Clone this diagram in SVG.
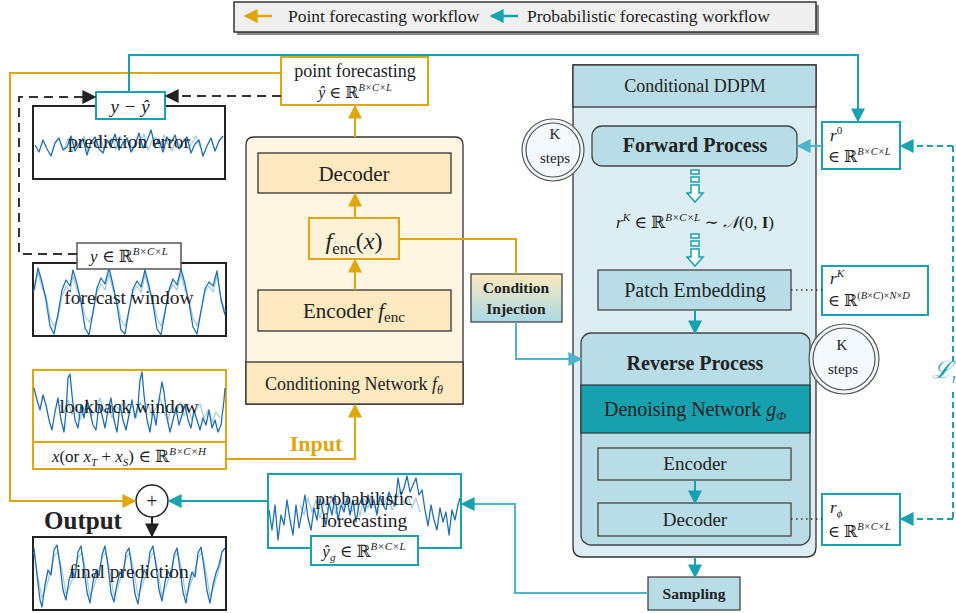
<svg xmlns="http://www.w3.org/2000/svg" width="956" height="613" viewBox="0 0 956 613">
<defs>
<style>
text{font-family:"Liberation Serif","DejaVu Serif",serif;fill:#222}
.it{font-style:italic}
.b{font-weight:bold}
.c{text-anchor:middle}
.ser{fill:none;stroke:#1e6fb6;stroke-width:1.3;stroke-linejoin:round}
.serl{fill:none;stroke:#9ccbe8;stroke-width:1.2;stroke-linejoin:round}
.y{fill:none;stroke:#e0a60c;stroke-width:2}
.t{fill:none;stroke:#18a2b0;stroke-width:2}
.tl{fill:none;stroke:#4cb4cb;stroke-width:2}
.dk{fill:none;stroke:#333;stroke-width:2;stroke-dasharray:9,6}
.td{fill:none;stroke:#18a2b0;stroke-width:2;stroke-dasharray:6,4}
.dot{fill:none;stroke:#333;stroke-width:1.5;stroke-dasharray:1.5,3.5}
.wbox{fill:#fff;stroke:#222;stroke-width:2}
.tbox{fill:#fff;stroke:#18a2b0;stroke-width:2}
.ybox{fill:#fff;stroke:#e0a60c;stroke-width:2}
.gbox{fill:#fff;stroke:#555;stroke-width:1.5}
.cb{fill:#fde9bf;stroke:#333;stroke-width:1.3}
.db{fill:#b8dde7;stroke:#444;stroke-width:1.3}
.hol{fill:#fff;stroke:#18a2b0;stroke-width:1.5}
</style>
<marker id="ay2" viewBox="0 0 10 10" refX="9" refY="5" markerWidth="14" markerHeight="14" markerUnits="userSpaceOnUse" orient="auto"><path d="M0,0 L10,5 L0,10 z" fill="#e0a60c"/></marker>
<marker id="at" viewBox="0 0 10 10" refX="9" refY="5" markerWidth="14" markerHeight="14" markerUnits="userSpaceOnUse" orient="auto"><path d="M0,0 L10,5 L0,10 z" fill="#18a2b0"/></marker>
<marker id="atl" viewBox="0 0 10 10" refX="9" refY="5" markerWidth="14" markerHeight="14" markerUnits="userSpaceOnUse" orient="auto"><path d="M0,0 L10,5 L0,10 z" fill="#4cb4cb"/></marker>
<marker id="ak" viewBox="0 0 10 10" refX="9" refY="5" markerWidth="14" markerHeight="14" markerUnits="userSpaceOnUse" orient="auto"><path d="M0,0 L10,5 L0,10 z" fill="#222"/></marker>
<linearGradient id="ginj" x1="0" y1="0" x2="0" y2="1"><stop offset="0" stop-color="#fde9bf"/><stop offset="1" stop-color="#a9d9e6"/></linearGradient>
</defs>

<!-- legend -->
<g id="legend">
<rect x="237" y="5" width="582" height="30" fill="#888"/>
<rect x="234" y="2" width="582" height="30" fill="#efefef" stroke="#333" stroke-width="1.5"/>
<line x1="272" y1="16" x2="245" y2="16" stroke="#e0a60c" stroke-width="2.5" marker-end="url(#ay2)"/>
<text x="288" y="22" font-size="17.5">Point forecasting workflow</text>
<line x1="518" y1="16" x2="491" y2="16" stroke="#18a2b0" stroke-width="2.5" marker-end="url(#at)"/>
<text x="527" y="22" font-size="17.5">Probabilistic forecasting workflow</text>
</g>

<!-- prediction error -->
<g id="prediction-error">
<rect class="wbox" x="33" y="106" width="192" height="73"/>
<polyline class="serl" points="60,143 64,150 68,138 72,152 76,141 80,148 84,136 88,151 92,140 96,147 100,135 104,150 108,142 112,138 116,149 120,136 124,146 128,139 132,152 136,140 140,145 144,134 148,150 152,141 156,137 160,148 164,135 168,144 172,151 176,138 180,146 184,140 188,149 192,143 196,136 200,147"/>
<polyline class="ser" points="35,145 39,152 43,140 47,149 51,156 55,143 59,138 63,150 67,147 71,136 75,151 79,144 83,139 87,155 91,142 95,137 99,149 103,153 107,140 111,146 115,134 119,150 123,143 127,138 131,152 135,145 139,133 143,148 147,141 151,130 155,146 159,139 163,152 167,137 171,143 175,135 179,149 183,142 187,137 191,153 195,144 199,140 203,156 207,146 211,138 215,151 219,141 223,136"/>
<text x="129" y="148" font-size="19.5" class="c">prediction error</text>
</g>
<g id="error-label">
<rect class="tbox" x="96" y="92" width="69" height="27"/>
<text x="130" y="113" font-size="19" class="c it">y − ŷ</text>
</g>

<!-- forecast window -->
<g id="forecast-window">
<rect class="wbox" x="33" y="263" width="193" height="73"/>
<polyline class="serl" points="34,292 38,272 42,288 46,296 50,318 54,326 58,318 62,296 66,286 70,292 73,276 77,290 81,298 85,316 89,322 93,314 97,292 101,284 105,290 109,274 113,290 117,300 121,320 125,326 129,312 133,292 137,286 141,292 145,275 149,290 153,300 157,318 161,326 165,312 169,292 173,284 177,290 181,274 185,290 189,300 193,318 197,326 201,312 205,292 209,286 213,292 217,276 221,298 225,312"/>
<polyline class="ser" points="34,290 38,268 42,282 46,300 50,326 54,334 58,314 62,290 66,280 70,286 73,270 77,284 81,302 85,328 89,335 93,312 97,288 101,278 105,284 109,268 113,285 117,305 121,330 125,334 129,310 133,289 137,281 141,287 145,270 149,286 153,304 157,329 161,335 165,312 169,290 173,279 177,285 181,269 185,284 189,303 193,327 197,334 201,311 205,289 209,282 213,286 217,271 221,300 225,315"/>
<text x="129" y="304" font-size="19.5" class="c">forecast window</text>
</g>
<g id="y-label">
<rect class="gbox" x="77" y="243" width="104" height="26"/>
<text x="129" y="262" font-size="17" class="c"><tspan class="it">y</tspan> ∈ ℝ<tspan class="it" font-size="11" dy="-7">B×C×L</tspan></text>
</g>

<!-- lookback window -->
<g id="lookback-window">
<rect class="ybox" x="33" y="370" width="193" height="72"/>
<polyline class="serl" points="60,405 64,412 68,400 72,415 76,404 80,420 84,410 88,402 92,416 96,408 100,398 104,412 108,404 112,418 116,406 120,410 124,400 128,414 132,405 136,418 140,402 144,410 148,404 152,416 156,408 160,398 164,412 168,420 172,406 176,414 180,402 184,416 188,408 192,420 196,410 200,404 204,418 208,410 212,422 216,412 220,418"/>
<polyline class="ser" points="34,388 37,400 40,410 43,395 46,405 49,420 52,430 55,412 58,398 61,420 64,432 66,412 68,378 70,374 72,395 75,420 78,428 81,405 84,418 87,400 90,412 93,425 96,430 99,405 102,415 105,428 108,410 111,398 114,420 117,432 120,405 123,420 126,430 129,415 132,400 135,418 138,405 140,380 142,372 144,395 147,420 150,432 153,410 156,425 159,400 162,382 164,392 167,418 170,432 173,420 176,408 179,425 182,415 185,405 188,420 191,428 194,410 197,420 200,430 203,418 206,425 209,410 212,428 215,420 218,432 221,425 224,400 225,388"/>
<text x="129" y="413" font-size="19.5" class="c">lookback window</text>
</g>
<g id="x-label">
<rect class="ybox" x="33" y="442" width="193" height="27"/>
<text x="129" y="462" font-size="17" class="c"><tspan class="it">x</tspan>(or <tspan class="it">x</tspan><tspan class="it" font-size="11" dy="4">T</tspan><tspan dy="-4"> + </tspan><tspan class="it">x</tspan><tspan class="it" font-size="11" dy="4">S</tspan><tspan dy="-4">) ∈ ℝ</tspan><tspan class="it" font-size="11" dy="-7">B×C×H</tspan></text>
</g>
<text x="316" y="451" font-size="22" class="c b" style="fill:#e0a60c">Input</text>

<!-- sum and output -->
<g id="sum">
<circle cx="152" cy="501" r="16" fill="#fff" stroke="#222" stroke-width="1.5"/>
<text x="152" y="508" font-size="20" class="c">+</text>
</g>
<text x="83" y="529" font-size="25" class="c b">Output</text>
<g id="final-prediction">
<rect class="wbox" x="33" y="537" width="193" height="73"/>
<polyline class="serl" points="34,552 38,578 42,598 46,588 50,574 54,556 58,552 62,570 66,594 70,586 74,574 78,558 82,552 86,572 90,596 94,586 98,574 102,558 106,552 110,572 114,596 118,586 122,574 126,558 130,552 134,572 138,596 142,586 146,574 150,558 154,552 158,572 162,596 166,586 170,574 174,558 178,552 182,572 186,596 190,586 194,574 198,558 202,552 206,572 210,596 214,586 218,572 222,558"/>
<polyline class="ser" points="34,548 37,575 40,600 42,607 45,585 48,570 51,575 54,550 57,545 60,565 63,590 66,600 69,580 72,570 75,578 78,552 81,546 84,568 87,592 90,603 93,582 96,571 99,576 102,555 105,546 108,566 111,593 114,602 117,584 120,572 123,577 126,553 129,548 132,570 135,594 138,604 141,583 144,570 147,575 150,552 153,546 156,566 159,590 162,601 165,582 168,571 171,578 174,555 177,548 180,569 183,592 186,603 189,584 192,572 195,577 198,553 201,547 204,567 207,591 210,603 213,585 216,573 219,565 222,552 225,548"/>
<text x="129" y="578" font-size="19.5" class="c">final prediction</text>
</g>

<!-- probabilistic forecasting -->
<g id="probabilistic-forecasting">
<rect class="tbox" x="268" y="474" width="193" height="74"/>
<polyline class="serl" points="300,505 304,515 308,498 312,512 316,500 320,518 324,502 328,510 332,496 336,514 340,500 344,508 348,495 352,512 356,502 360,516 364,498 368,508 372,494 376,512 380,500 384,506 388,494 392,510 396,500 400,490 404,504 408,496 412,508 416,498 420,512"/>
<polyline class="ser" points="269,510 272,530 275,505 278,540 281,515 284,525 287,500 290,520 293,535 296,505 299,528 302,512 305,495 308,518 311,530 314,508 317,520 320,498 323,512 326,525 329,503 332,515 335,495 338,520 341,505 344,512 347,498 350,515 353,500 356,522 359,505 362,498 365,512 368,495 371,508 374,500 377,515 380,496 383,505 386,510 389,492 392,500 395,506 398,478 401,495 404,488 407,476 410,492 413,485 416,478 419,495 422,490 425,510 428,526 431,505 434,520 437,530 440,508 443,522 446,512 449,535 452,510 455,520 458,505 460,498"/>
<text x="364" y="505" font-size="19.5" class="c">probabilistic</text>
<text x="364" y="527" font-size="19.5" class="c">forecasting</text>
</g>
<g id="yg-label">
<rect class="tbox" x="311" y="536" width="107" height="29"/>
<text x="364" y="557" font-size="17" class="c"><tspan class="it">ŷ</tspan><tspan class="it" font-size="11" dy="4">g</tspan><tspan dy="-4"> ∈ ℝ</tspan><tspan class="it" font-size="11" dy="-7">B×C×L</tspan></text>
</g>

<!-- point forecasting -->
<g id="point-forecasting">
<rect class="ybox" x="281" y="57" width="147" height="48"/>
<text x="355" y="77" font-size="18" class="c">point forecasting</text>
<text x="355" y="98" font-size="16" class="c"><tspan class="it">ŷ</tspan> ∈ ℝ<tspan class="it" font-size="10.5" dy="-7">B×C×L</tspan></text>
</g>

<!-- conditioning network -->
<g id="conditioning-network">
<path d="M254,137 H455 Q463,137 463,145 V404 H246 V145 Q246,137 254,137 Z" fill="#fef6e3" stroke="#333" stroke-width="1.3"/>
<rect x="246" y="362" width="217" height="42" fill="#fde9bf" stroke="#333" stroke-width="1.3"/>
<text x="354" y="390" font-size="18" class="c">Conditioning Network <tspan class="it">f</tspan><tspan class="it" font-size="12" dy="4">θ</tspan></text>
</g>
<g id="decoder-c">
<rect class="cb" x="258" y="153" width="193" height="40"/>
<text x="354" y="181" font-size="21" class="c">Decoder</text>
</g>
<g id="fenc">
<rect x="309" y="218" width="90" height="41" fill="#fef2d8" stroke="#e0a60c" stroke-width="2"/>
<text x="354" y="249" font-size="24" class="c"><tspan class="it">f</tspan><tspan font-size="17" dy="5">enc</tspan><tspan dy="-5">(</tspan><tspan class="it">x</tspan>)</text>
</g>
<g id="encoder-c">
<rect class="cb" x="258" y="290" width="193" height="41"/>
<text x="354" y="318" font-size="21" class="c">Encoder <tspan class="it">f</tspan><tspan font-size="15" dy="4">enc</tspan></text>
</g>
<g id="condition-injection">
<rect x="471" y="274" width="91" height="48" fill="url(#ginj)" stroke="#444" stroke-width="1.3"/>
<text x="516" y="293" font-size="15.5" class="c b">Condition</text>
<text x="516" y="314" font-size="15.5" class="c b">Injection</text>
</g>

<!-- conditional DDPM -->
<g id="ddpm">
<path d="M573,65 H816 V547 Q816,557 806,557 H583 Q573,557 573,547 Z" fill="#dcedf3" stroke="#333" stroke-width="1.3"/>
<rect x="573" y="65" width="243" height="42" fill="#b8dde7" stroke="#333" stroke-width="1.3"/>
<text x="695" y="92" font-size="18" class="c">Conditional DDPM</text>
</g>
<g id="k-steps-left">
<circle cx="553" cy="150" r="31" fill="#eef7fa" fill-opacity="0.85" stroke="#555" stroke-width="1.2"/>
<circle cx="553" cy="150" r="27" fill="#f3f9fc" fill-opacity="0.85" stroke="#555" stroke-width="1.2"/>
<text x="555" y="139" font-size="15" class="c">K</text>
<text x="555" y="163" font-size="15" class="c">steps</text>
</g>
<g id="forward-process">
<rect class="db" x="592" y="126" width="205" height="40" rx="10"/>
<text x="695" y="152" font-size="20" class="c b">Forward Process</text>
</g>
<g id="hollow-arrows">
<rect class="hol" x="691" y="170" width="8" height="4"/>
<rect class="hol" x="691" y="177" width="8" height="5"/>
<path class="hol" d="M691,185 H699 V193 H703 L695,202 L687,193 H691 Z"/>
<rect class="hol" x="691" y="234" width="8" height="4"/>
<rect class="hol" x="691" y="241" width="8" height="5"/>
<path class="hol" d="M691,249 H699 V257 H703 L695,266 L687,257 H691 Z"/>
</g>
<text x="695" y="228" font-size="17" class="c"><tspan class="it">r</tspan><tspan class="it" font-size="11" dy="-7">K</tspan><tspan dy="7"> ∈ ℝ</tspan><tspan class="it" font-size="11" dy="-7">B×C×L</tspan><tspan dy="7"> ∼ </tspan><tspan class="it">𝒩</tspan>(0, <tspan class="b">I</tspan>)</text>
<g id="patch-embedding">
<rect class="db" x="598" y="270" width="193" height="40"/>
<text x="695" y="297" font-size="20" class="c">Patch Embedding</text>
</g>
<g id="reverse-process">
<rect class="db" x="581" y="333" width="229" height="212" rx="10"/>
<rect x="581" y="385" width="229" height="48" fill="#17a1ae" stroke="#333" stroke-width="1.2"/>
<text x="695" y="370" font-size="20" class="c b">Reverse Process</text>
<text x="695" y="416" font-size="20" class="c">Denoising Network <tspan class="it">g</tspan><tspan class="it" font-size="13" dy="4">Φ</tspan></text>
</g>
<g id="k-steps-right">
<circle cx="844" cy="359" r="35" fill="#eef7fa" fill-opacity="0.85" stroke="#555" stroke-width="1.2"/>
<circle cx="844" cy="359" r="31" fill="#f3f9fc" fill-opacity="0.85" stroke="#555" stroke-width="1.2"/>
<text x="842" y="350" font-size="15" class="c">K</text>
<text x="843" y="374" font-size="15" class="c">steps</text>
</g>
<g id="encoder-d">
<rect class="db" x="598" y="448" width="193" height="32"/>
<text x="695" y="470" font-size="19" class="c">Encoder</text>
</g>
<g id="decoder-d">
<rect class="db" x="598" y="503" width="193" height="33"/>
<text x="695" y="526" font-size="19" class="c">Decoder</text>
</g>
<g id="sampling">
<rect class="db" x="648" y="577" width="92" height="33"/>
<text x="694" y="599" font-size="15.5" class="c b">Sampling</text>
</g>

<!-- r boxes -->
<g id="r0">
<rect class="tbox" x="822" y="122" width="78" height="47"/>
<text x="830" y="141" font-size="17"><tspan class="it">r</tspan><tspan font-size="11" dy="-7">0</tspan></text>
<text x="828" y="162" font-size="16">∈ ℝ<tspan class="it" font-size="10.5" dy="-7">B×C×L</tspan></text>
</g>
<g id="rK">
<rect class="tbox" x="822" y="266" width="106" height="49"/>
<text x="830" y="284" font-size="17"><tspan class="it">r</tspan><tspan class="it" font-size="11" dy="-7">K</tspan></text>
<text x="828" y="306" font-size="16">∈ ℝ<tspan font-size="10.5" dy="-7">(</tspan><tspan class="it" font-size="10.5">B</tspan><tspan font-size="10.5">×</tspan><tspan class="it" font-size="10.5">C</tspan><tspan font-size="10.5">)×</tspan><tspan class="it" font-size="10.5">N</tspan><tspan font-size="10.5">×</tspan><tspan class="it" font-size="10.5">D</tspan></text>
</g>
<g id="rphi">
<rect class="tbox" x="822" y="494" width="78" height="51"/>
<text x="830" y="513" font-size="17"><tspan class="it">r</tspan><tspan class="it" font-size="11" dy="4">ϕ</tspan></text>
<text x="828" y="537" font-size="16">∈ ℝ<tspan class="it" font-size="10.5" dy="-7">B×C×L</tspan></text>
</g>

<!-- connectors -->
<g id="connectors">
<polyline class="y" points="281,73 10,73 10,501 135,501" marker-end="url(#ay2)"/>
<polyline class="t" points="129,92 129,55 858,55 858,121" marker-end="url(#at)"/>
<line class="dk" x1="281" y1="96" x2="166" y2="96" marker-end="url(#ak)"/>
<polyline class="dk" points="77,254 19,254 19,97 95,97" marker-end="url(#ak)"/>
<line x1="152" y1="517" x2="152" y2="536" stroke="#222" stroke-width="2" marker-end="url(#ak)"/>
<line class="t" x1="268" y1="501" x2="169" y2="501" marker-end="url(#at)"/>
<polyline class="tl" points="648,593 515,593 515,504 462,504" marker-end="url(#at)"/>
<polyline class="y" points="226,459 355,459 355,405" marker-end="url(#ay2)"/>
<line class="y" x1="355" y1="290" x2="355" y2="260" marker-end="url(#ay2)"/>
<line class="y" x1="355" y1="218" x2="355" y2="194" marker-end="url(#ay2)"/>
<line class="y" x1="355" y1="137" x2="355" y2="106" marker-end="url(#ay2)"/>
<polyline class="y" points="399,239 516,239 516,274"/>
<polyline class="tl" points="516,322 516,359 581,359" marker-end="url(#atl)"/>
<line class="tl" x1="822" y1="146" x2="798" y2="146" marker-end="url(#atl)"/>
<polyline class="td" points="953,146 953,362"/>
<polyline class="td" points="953,392 953,519"/>
<line class="td" x1="953" y1="146" x2="901" y2="146" marker-end="url(#at)"/>
<line class="td" x1="953" y1="519" x2="901" y2="519" marker-end="url(#at)"/>
<line class="dot" x1="791" y1="290" x2="822" y2="290"/>
<line class="dot" x1="791" y1="519" x2="822" y2="519"/>
<line class="t" x1="695" y1="310" x2="695" y2="333" marker-end="url(#at)"/>
<line class="t" x1="695" y1="480" x2="695" y2="503" marker-end="url(#at)"/>
<line class="t" x1="695" y1="557" x2="695" y2="577" marker-end="url(#at)"/>
</g>
<text x="932" y="378" font-size="24" class="it" style="fill:#18a2b0">ℒ<tspan font-size="14" dy="5">r</tspan></text>
</svg>
